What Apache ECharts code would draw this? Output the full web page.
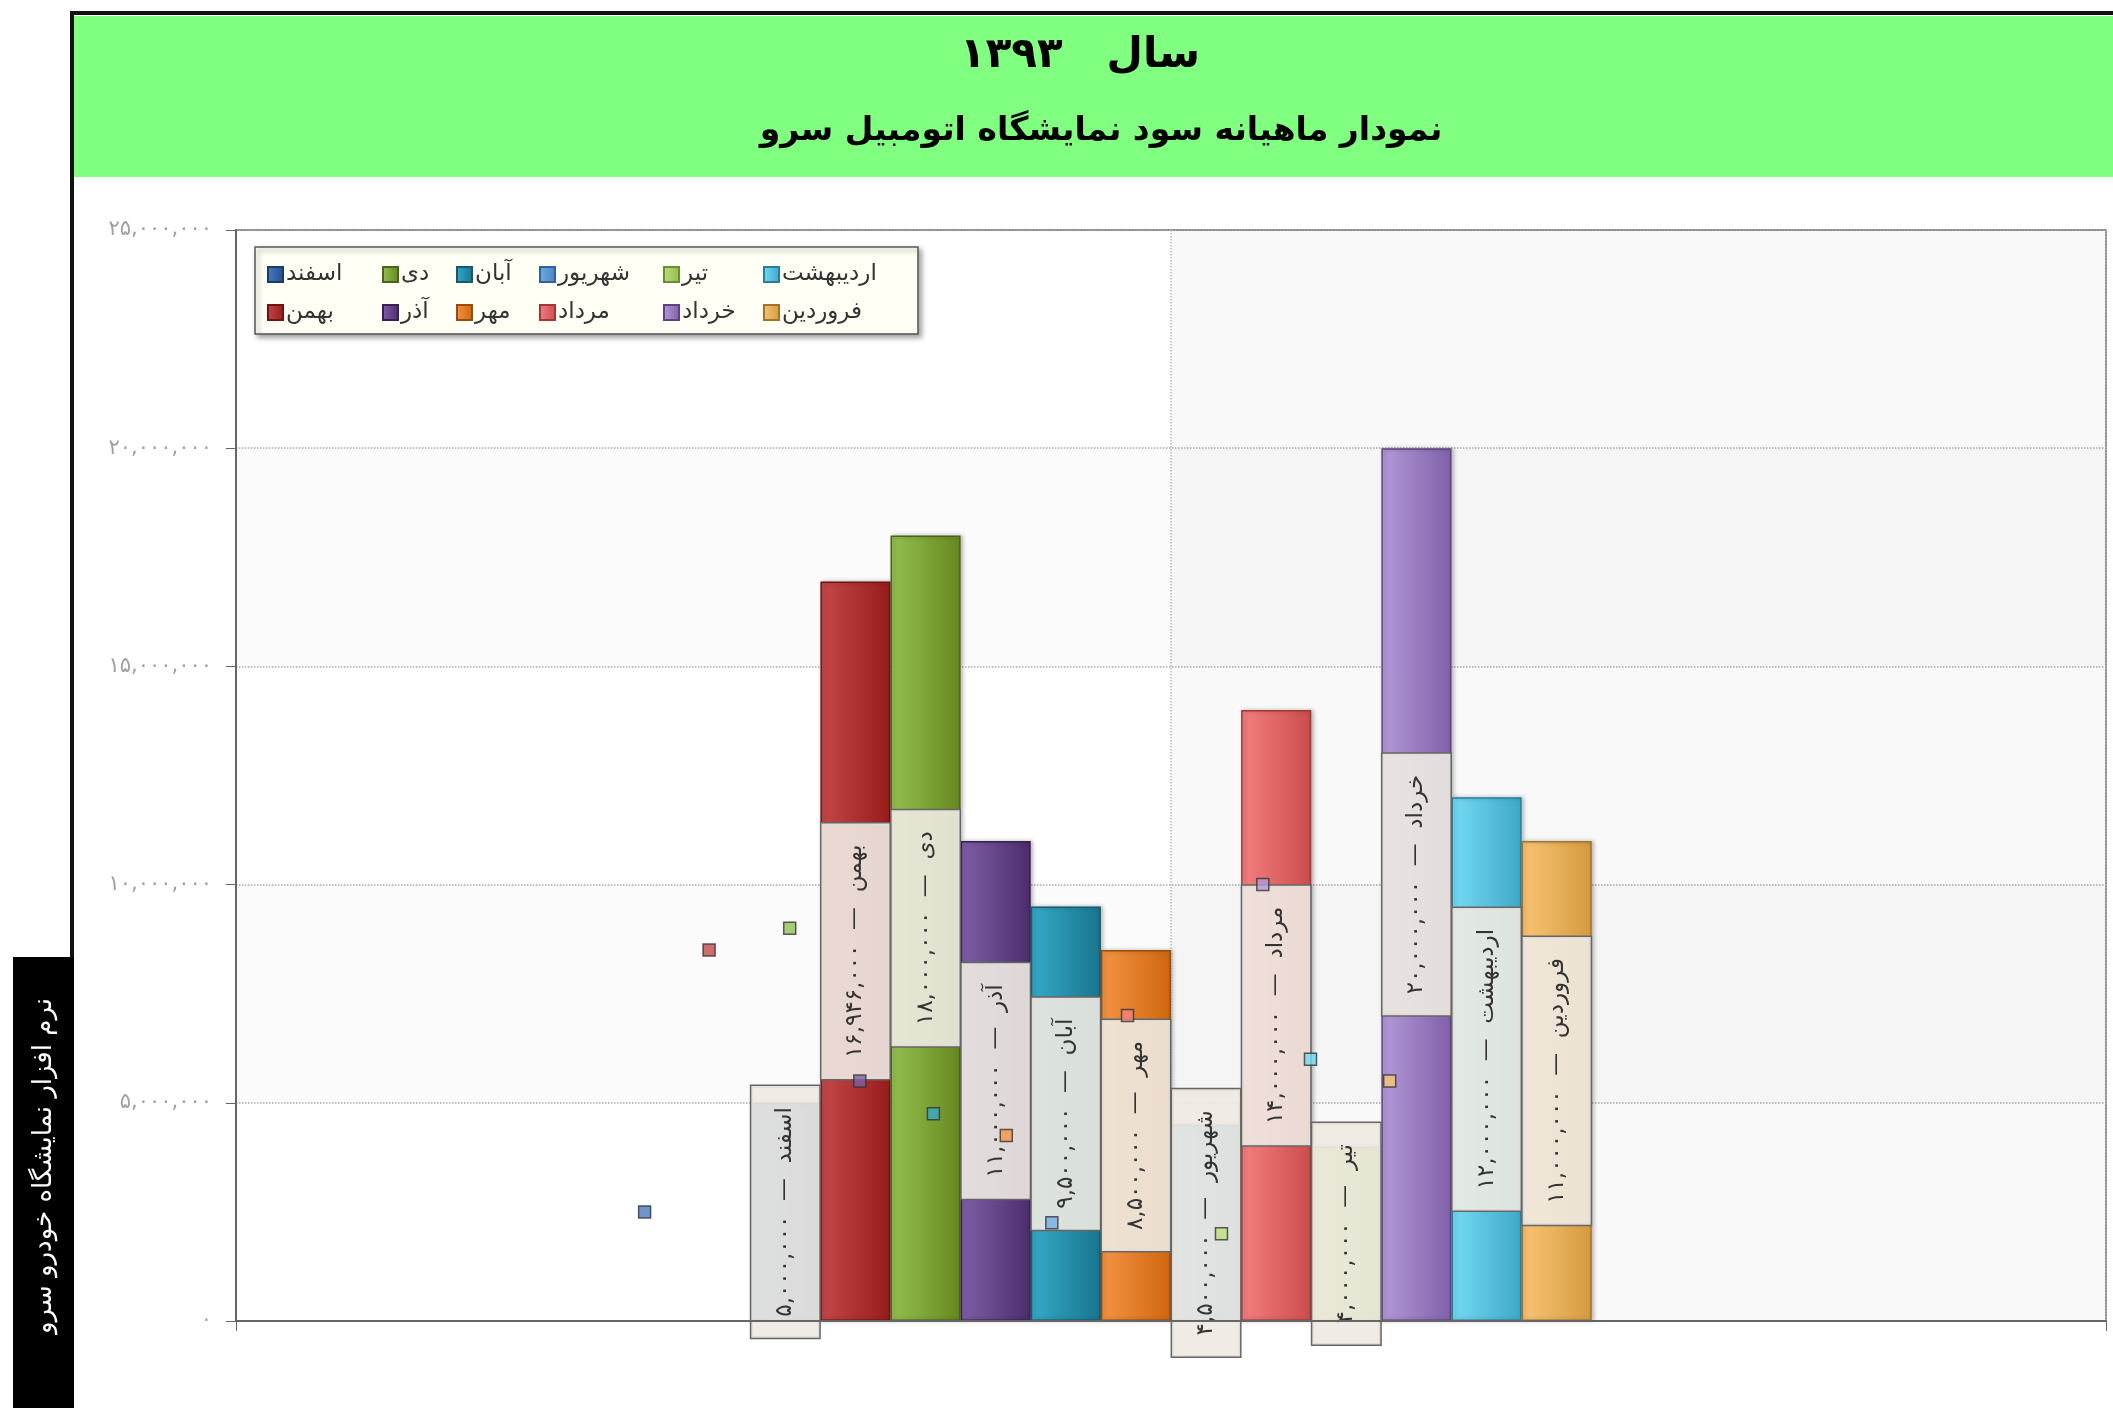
<html>
<head>
<meta charset="utf-8">
<script src="https://cdn.jsdelivr.net/npm/echarts@6/dist/echarts.min.js"></script>
<style>
  html, body { margin: 0; padding: 0; background: #fff; }
  #main { width: 2113px; height: 1408px; }
</style>
</head>
<body>
<div id="main"></div>
<script type="text/javascript">
// months, right to left (as in the original)
var months = ['اسفند', 'بهمن', 'دی', 'آذر', 'آبان', 'مهر', 'شهریور', 'مرداد', 'تیر', 'خرداد', 'اردیبهشت', 'فروردین'];
var profits = [5000000, 16946000, 18000000, 11000000, 9500000, 8500000, 4500000, 14000000, 4000000, 20000000, 12000000, 11000000];
// small square markers (x in bar widths from the centre, y in rials)
var pointX = [-7.51, -6.59, -5.44, -4.44, -3.39, -2.35, -1.70, -0.62, 0.72, 1.31, 1.99, 3.12];
var pointY = [2500000, 8500000, 9000000, 5500000, 4750000, 4250000, 2250000, 7000000, 2000000, 10000000, 6000000, 5500000];
var legendCols = [['اسفند', 'بهمن'], ['دی', 'آذر'], ['آبان', 'مهر'], ['شهریور', 'مرداد'], ['تیر', 'خرداد'], ['اردیبهشت', 'فروردین']];
var yMax = 25000000, yStep = 5000000;
var titleYear = 'سال   ۱۳۹۳';
var titleMain = 'نمودار ماهیانه سود نمایشگاه اتومبیل سرو';
var sideText = 'نرم افزار نمایشگاه خودرو سرو';

// colours: light, dark, border
var palette = [
  ['#4a7cc0', '#224f8c', '#1c3a66'],
  ['#c44848', '#981c1c', '#6e1414'],
  ['#94c050', '#66881e', '#4a6418'],
  ['#7e60a8', '#4c2c6c', '#3a2050'],
  ['#34aac8', '#19758e', '#145a6c'],
  ['#f49444', '#d0660e', '#9a4c0c'],
  ['#70aee4', '#4a82c2', '#34609a'],
  ['#f48080', '#cc4c4c', '#a03838'],
  ['#bcde7c', '#92ba4e', '#6a8c34'],
  ['#b39ad8', '#8060aa', '#5c4480'],
  ['#76daf4', '#3ea8c8', '#2c7e98'],
  ['#fac474', '#d49a40', '#a0742c']
];

function toFa(n) {
  var s = Math.round(n).toString().replace(/\B(?=(\d{3})+(?!\d))/g, ',');
  return s.replace(/\d/g, function (d) { return '۰۱۲۳۴۵۶۷۸۹'[+d]; });
}

function grad(c) {
  return new echarts.graphic.LinearGradient(0, 0, 1, 0, [
    { offset: 0, color: c[0] }, { offset: 1, color: c[1] }
  ]);
}

var FONT = 'DejaVu Sans';
var myChart = echarts.init(document.getElementById('main'));

var series = months.map(function (m, i) {
  return {
    type: 'bar',
    name: m,
    data: [profits[i]],
    barGap: '0%',
    barCategoryGap: '55%',
    itemStyle: {
      color: grad(palette[i]),
      borderColor: palette[i][2],
      borderWidth: 1.5,
      shadowColor: 'rgba(0,0,0,0.25)',
      shadowBlur: 4,
      shadowOffsetX: 2
    },
    label: {
      show: true,
      position: 'inside',
      rotate: 90,
      formatter: function (p) { return p.seriesName + '  —  ' + toFa(p.value); },
      fontFamily: FONT,
      fontSize: 23,
      lineHeight: 28,
      color: '#333',
      backgroundColor: 'rgba(238,234,226,0.9)',
      borderColor: '#666',
      borderWidth: 1.5,
      padding: [20, 21, 20, 21]
    },
    z: 2
  };
});

series.push({
  type: 'scatter',
  name: 'points',
  xAxisIndex: 1,
  yAxisIndex: 0,
  symbol: 'rect',
  symbolSize: 12,
  data: pointX.map(function (x, i) { return [x, pointY[i]]; }),
  itemStyle: {
    color: function (p) { return palette[p.dataIndex][0]; },
    borderColor: '#333',
    borderWidth: 1.5
  },
  z: 4
});

var legends = legendCols.map(function (col, k) {
  var lefts = [262, 377, 451, 534, 658, 758];
  return {
    orient: 'vertical',
    left: lefts[k],
    top: 258,
    data: col,
    itemWidth: 15,
    itemHeight: 15,
    itemGap: 15,
    selectedMode: false,
    icon: 'rect',
    textStyle: { fontFamily: FONT, fontSize: 23, color: '#333', padding: [0, 0, 0, -2] },
    z: 20
  };
});

var half = 13.34;

var option = {
  backgroundColor: '#fff',
  animation: false,
  legend: legends,
  grid: {
    left: 236, right: 7, top: 230, bottom: 87,
    show: true, borderColor: '#666', borderWidth: 1.5
  },
  xAxis: [{
    type: 'category',
    data: [''],
    axisLine: { lineStyle: { color: '#666', width: 2 } },
    axisTick: { show: true, length: 10, lineStyle: { color: '#666' } },
    axisLabel: { show: false },
    z: 6
  }, {
    type: 'value',
    position: 'bottom',
    min: -half, max: half, interval: half,
    axisLine: { show: false, onZero: false },
    axisTick: { show: true, length: 8, lineStyle: { color: '#aaa' } },
    axisLabel: { show: false },
    splitLine: { show: true, lineStyle: { color: '#bbb', type: 'dotted', width: 1.5 } },
    splitArea: { show: true, areaStyle: { color: ['rgba(0,0,0,0)', 'rgba(0,0,0,0.024)'] } }
  }],
  yAxis: {
    type: 'value',
    min: 0, max: yMax, interval: yStep,
    axisLine: { show: true, onZero: false, lineStyle: { color: '#666', width: 2 } },
    axisTick: { show: true, length: 10, lineStyle: { color: '#666' } },
    axisLabel: {
      margin: 24,
      formatter: function (v) { return toFa(v); },
      fontFamily: FONT, fontSize: 21, color: '#a0a0a0'
    },
    splitLine: { show: true, lineStyle: { color: '#aaa', type: 'dotted', width: 1.5 } },
    splitArea: { show: true, areaStyle: { color: ['rgba(0,0,0,0)', 'rgba(0,0,0,0.014)'] } }
  },
  graphic: [
    { type: 'rect', shape: { x: 74, y: 16, width: 2039, height: 161 }, style: { fill: '#80ff80' }, z: 1 },
    { type: 'rect', shape: { x: 70, y: 11, width: 2043, height: 4 }, style: { fill: '#111' }, z: 1 },
    { type: 'rect', shape: { x: 70, y: 11, width: 4, height: 946 }, style: { fill: '#111' }, z: 1 },
    { type: 'rect', shape: { x: 13, y: 957, width: 61, height: 451 }, style: { fill: '#000' }, z: 1 },
    {
      type: 'text', x: 44, y: 1166, rotation: Math.PI / 2, z: 2,
      style: { text: sideText, fill: '#fff', font: '26px "DejaVu Sans"', textAlign: 'center', textVerticalAlign: 'middle' }
    },
    {
      type: 'text', x: 1080, y: 56, z: 2,
      style: { text: titleYear, fill: '#000', font: 'bold 42px "DejaVu Sans"', textAlign: 'center', textVerticalAlign: 'middle' }
    },
    {
      type: 'text', x: 1101, y: 131, z: 2,
      style: { text: titleMain, fill: '#000', font: 'bold 33px "DejaVu Sans"', textAlign: 'center', textVerticalAlign: 'middle' }
    },
    {
      type: 'rect', shape: { x: 255, y: 247, width: 663, height: 87 }, z: 15,
      style: { fill: '#fffff6', stroke: '#555', lineWidth: 1.5, shadowColor: 'rgba(0,0,0,0.35)', shadowBlur: 5, shadowOffsetX: 3, shadowOffsetY: 3 }
    }
  ],
  series: series
};

myChart.setOption(option);
</script>
</body>
</html>
